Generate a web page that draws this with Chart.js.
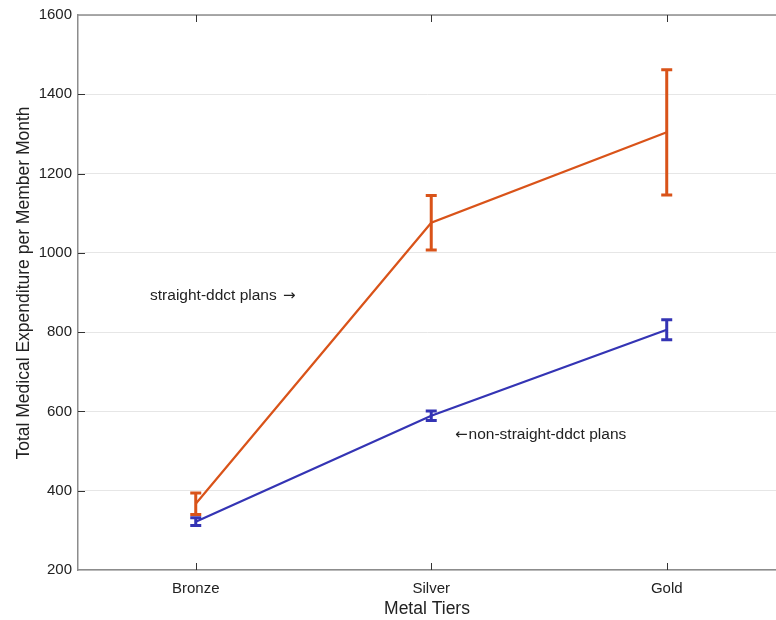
<!DOCTYPE html>
<html>
<head>
<meta charset="utf-8">
<script src="https://cdn.jsdelivr.net/npm/chart.js@4"></script>
<style>
  html, body { margin: 0; padding: 0; background: #fff; overflow: hidden; }
</style>
</head>
<body>
<canvas id="chart" width="776" height="620"></canvas>
<script>
// data
const tiers = ['Bronze', 'Silver', 'Gold'];
const straightMean = [367, 1076, 1304];
const straightErr = [27, 69, 158];
const nonStraightMean = [322, 589, 806];
const nonStraightErr = [10, 12, 25];
const yTicks = [200, 400, 600, 800, 1000, 1200, 1400, 1600];

const orange = '#D95319';
const blue = '#3434B4';
const axisGrey = '#8c8c8c';
const fontFamily = '"Liberation Sans", Arial, sans-serif';
const arrowFont = '15px "DejaVu Sans", sans-serif';

function toPoints(values) {
  return values.map((v, i) => ({ x: i + 1, y: v }));
}

const errorBars = {
  id: 'errorBars',
  afterDatasetsDraw(chart) {
    const ctx = chart.ctx;
    const x = chart.scales.x;
    const y = chart.scales.y;
    chart.data.datasets.forEach(ds => {
      ctx.save();
      ctx.strokeStyle = ds.borderColor;
      ctx.lineWidth = 3;
      ds.data.forEach((p, i) => {
        const px = x.getPixelForValue(p.x);
        const top = y.getPixelForValue(p.y + ds.err[i]);
        const bot = y.getPixelForValue(p.y - ds.err[i]);
        ctx.beginPath();
        ctx.moveTo(px, top);
        ctx.lineTo(px, bot);
        ctx.moveTo(px - 5.5, top);
        ctx.lineTo(px + 5.5, top);
        ctx.moveTo(px - 5.5, bot);
        ctx.lineTo(px + 5.5, bot);
        ctx.stroke();
      });
      ctx.restore();
    });
  }
};

// top border, inward tick marks, y title and the two text labels
const decorations = {
  id: 'decorations',
  afterDraw(chart) {
    const ctx = chart.ctx;
    const area = chart.chartArea;
    const x = chart.scales.x;
    const y = chart.scales.y;
    ctx.save();
    ctx.strokeStyle = axisGrey;
    ctx.lineWidth = 1.5;
    ctx.beginPath();
    ctx.moveTo(area.left, area.top);
    ctx.lineTo(area.right, area.top);
    ctx.stroke();

    ctx.strokeStyle = '#333';
    ctx.lineWidth = 1;
    ctx.beginPath();
    tiers.forEach((t, i) => {
      const px = Math.round(x.getPixelForValue(i + 1)) + 0.5;
      ctx.moveTo(px, area.bottom);
      ctx.lineTo(px, area.bottom - 7);
      ctx.moveTo(px, area.top);
      ctx.lineTo(px, area.top + 7);
    });
    yTicks.slice(1, -1).forEach(v => {
      const py = Math.round(y.getPixelForValue(v)) + 0.5;
      ctx.moveTo(area.left, py);
      ctx.lineTo(area.left + 7, py);
    });
    ctx.stroke();

    ctx.fillStyle = '#222';
    ctx.font = '17.5px ' + fontFamily;
    ctx.textAlign = 'center';
    ctx.textBaseline = 'middle';
    ctx.translate(24, 283);
    ctx.rotate(-Math.PI / 2);
    ctx.fillText('Total Medical Expenditure per Member Month', 0, 0);
    ctx.setTransform(1, 0, 0, 1, 0, 0);

    ctx.textAlign = 'left';
    const textFont = '15.5px ' + fontFamily;

    // straight-ddct label, arrow to the right
    let tx = x.getPixelForValue(0.806);
    let ty = y.getPixelForValue(892);
    ctx.font = textFont;
    ctx.fillText('straight-ddct plans', tx, ty);
    tx += ctx.measureText('straight-ddct plans ').width;
    ctx.font = arrowFont;
    ctx.fillText('\u2192', tx + 2, ty);

    // non-straight-ddct label, arrow to the left
    tx = x.getPixelForValue(2.101);
    ty = y.getPixelForValue(541);
    ctx.font = arrowFont;
    ctx.fillText('\u2190', tx, ty);
    tx += ctx.measureText('\u2190').width + 1;
    ctx.font = textFont;
    ctx.fillText('non-straight-ddct plans', tx, ty);
    ctx.restore();
  }
};

new Chart(document.getElementById('chart'), {
  type: 'line',
  data: {
    datasets: [
      {
        label: 'straight-ddct plans',
        data: toPoints(straightMean),
        err: straightErr,
        borderColor: orange,
        borderWidth: 2.2,
        pointRadius: 0,
        tension: 0
      },
      {
        label: 'non-straight-ddct plans',
        data: toPoints(nonStraightMean),
        err: nonStraightErr,
        borderColor: blue,
        borderWidth: 2.2,
        pointRadius: 0,
        tension: 0
      }
    ]
  },
  options: {
    responsive: false,
    animation: false,
    layout: { padding: { top: 12, right: 0, bottom: 0, left: 0 } },
    plugins: {
      legend: { display: false },
      tooltip: { enabled: false }
    },
    scales: {
      x: {
        type: 'linear',
        min: 0.5,
        max: 3.464,
        afterBuildTicks(scale) {
          scale.ticks = tiers.map((t, i) => ({ value: i + 1 }));
        },
        afterFit(scale) { scale.height = 50; },
        ticks: {
          color: '#222',
          padding: 10,
          maxRotation: 0,
          font: { family: fontFamily, size: 15 },
          callback: v => tiers[v - 1] || ''
        },
        grid: { display: false, drawTicks: false },
        border: { color: axisGrey, width: 1.5 },
        title: {
          display: true,
          text: 'Metal Tiers',
          color: '#222',
          padding: { top: 0, bottom: 0 },
          font: { family: fontFamily, size: 17.5 }
        }
      },
      y: {
        min: 200,
        max: 1600,
        afterBuildTicks(scale) {
          scale.ticks = yTicks.map(v => ({ value: v }));
        },
        afterFit(scale) { scale.width = 78; },
        ticks: {
          color: '#222',
          padding: 6,
          font: { family: fontFamily, size: 15 },
          callback: v => String(v)
        },
        grid: { color: '#e6e6e6', lineWidth: 1, drawTicks: false },
        border: { color: axisGrey, width: 1.5 }
      }
    }
  },
  plugins: [errorBars, decorations]
});
</script>
</body>
</html>
